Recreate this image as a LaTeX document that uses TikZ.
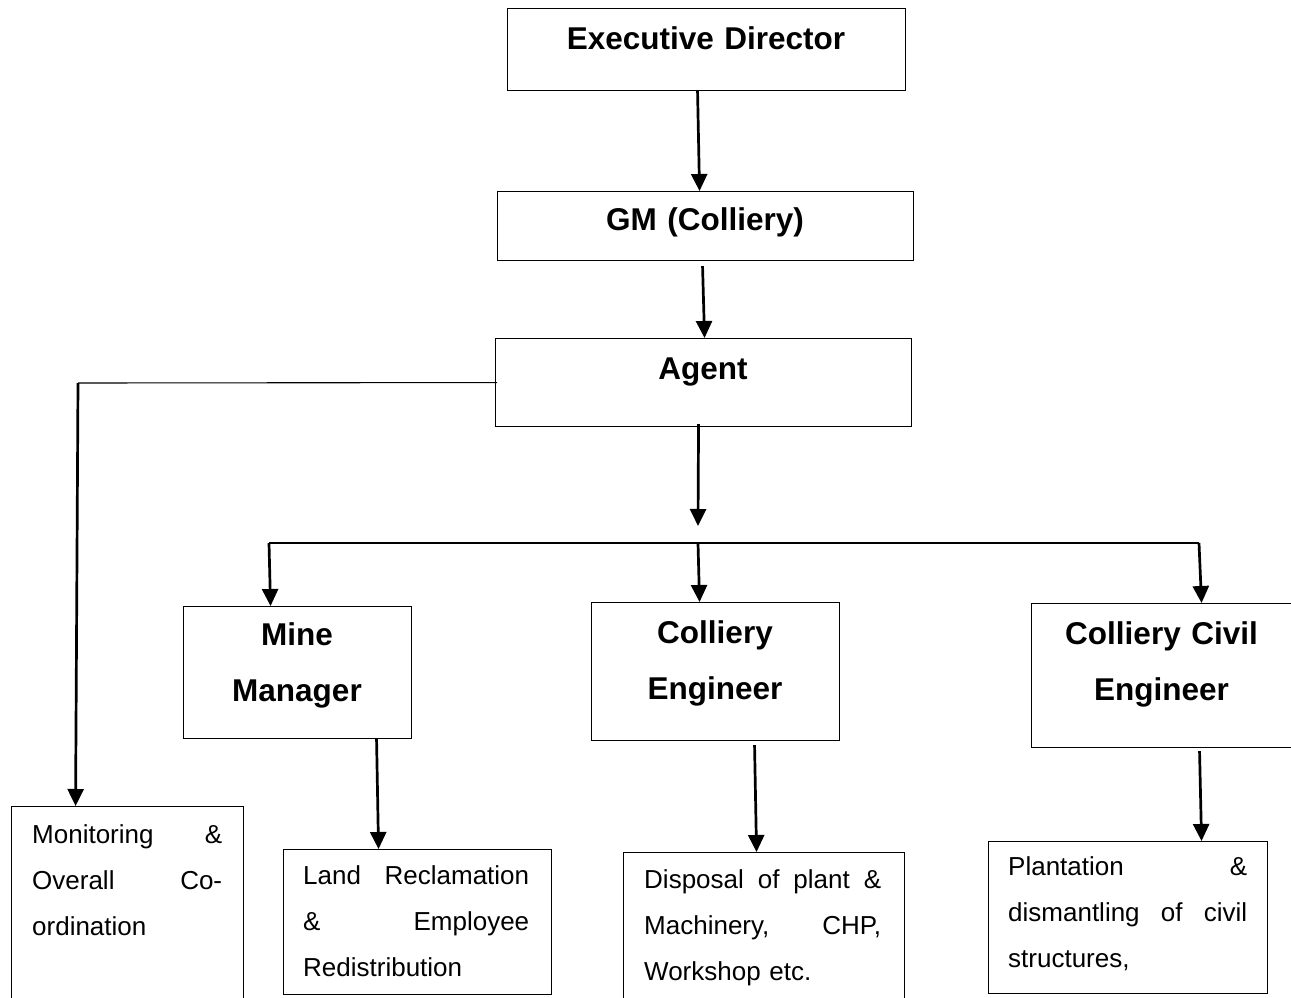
\documentclass[tikz,border=0pt]{standalone}
\usepackage{fontspec}
\setmainfont{Liberation Sans}
\usetikzlibrary{arrows.meta,calc}
\newcommand{\jline}[2]{\leavevmode\hbox to #1{#2}}
\begin{document}
\begin{tikzpicture}[x=1pt,y=-1pt,
  box/.style={draw=black,line width=1.1pt,inner sep=0pt,anchor=north west},
  ttl/.style={inner sep=0pt,anchor=base,text width=420pt,align=center,font=\bfseries\fontsize{31.5}{56}\selectfont},
  body/.style={inner sep=0pt,anchor=base west,align=left,font=\fontsize{26}{46}\selectfont},
  arr/.style={draw=black,line width=2.7pt,-{Triangle[length=17pt,width=16pt]}},
  thinline/.style={draw=black,line width=1.1pt}]
\useasboundingbox (0,0) rectangle (1291,998);
\fill[white] (0,0) rectangle (1291,998);
\clip (0,0) rectangle (1291,998);

% boxes
\node[box,minimum width=398pt,minimum height=82pt] (ed) at (507,8) {};
\node[box,minimum width=416pt,minimum height=69pt] (gm) at (497,191) {};
\node[box,minimum width=416pt,minimum height=88pt] (ag) at (495,338) {};
\node[box,minimum width=228pt,minimum height=132pt] (mm) at (183,606) {};
\node[box,minimum width=248pt,minimum height=138pt] (ce) at (591,602) {};
\node[box,minimum width=261pt,minimum height=144pt] (cce) at (1031,603) {};
\node[box,minimum width=232pt,minimum height=250pt] (mon) at (11,806) {};
\node[box,minimum width=268pt,minimum height=145pt] (land) at (283,849) {};
\node[box,minimum width=281pt,minimum height=146pt] (disp) at (623,852) {};
\node[box,minimum width=279pt,minimum height=152pt] (plant) at (988,841) {};

% titles
\node[ttl] (edt) at (706,50) {Executive Director};
\node[ttl] (gmt) at (705,230) {GM (Colliery)};
\node[ttl] (agt) at (703,379) {Agent};
\node[ttl] (mmt) at (297,645) {Mine\\Manager};
\node[ttl] (cet) at (715,643) {Colliery\\Engineer};
\node[ttl] (ccet) at (1161.5,644) {Colliery Civil\\Engineer};

% body texts
\node[body,text width=190pt] (mont) at (32,843)
  {\jline{190pt}{Monitoring\hfill\&}\\\jline{190pt}{Overall\hfill Co-}\\ordination};
\node[body,text width=226pt] (landt) at (303,884)
  {\jline{226pt}{Land\hfill Reclamation}\\\jline{226pt}{\&\hfill Employee}\\Redistribution};
\node[body,text width=237pt] (dispt) at (644,888)
  {\jline{237pt}{Disposal\hfill of\hfill plant\hfill \&}\\\jline{237pt}{Machinery,\hfill CHP,}\\Workshop etc.};
\node[body,text width=239pt] (plantt) at (1008,875)
  {\jline{239pt}{Plantation\hfill\&}\\\jline{239pt}{dismantling\hfill of\hfill civil}\\structures,};

% coordinates
\coordinate (corner) at (78,383);
\coordinate (agtip) at (698,526);
\coordinate (busL) at (269,543);
\coordinate (busC) at (698,543);
\coordinate (busR) at (1199,543);

% connectors
\draw[arr] ([xshift=-9pt]ed.south) -- ([xshift=-6pt]gm.north);
\draw[arr] ([xshift=-3pt,yshift=-5pt]gm.south) -- ([xshift=1pt]ag.north);
\draw[arr] ([xshift=-5pt,yshift=3pt]ag.south) -- (agtip);
\draw[thinline] ([xshift=2pt]ag.west) -- (corner);
\draw[arr] (corner) -- ([xshift=-52pt]mon.north);
\draw[thinline] (busL) -- (busR);
\draw[arr] (busL) -- ([xshift=-27pt]mm.north);
\draw[arr] (busC) -- ([xshift=-16pt]ce.north);
\draw[arr] (busR) -- ([xshift=39.5pt]cce.north);
\draw[arr] ([xshift=79pt]mm.south) -- ([xshift=-39pt]land.north);
\draw[arr] ([xshift=39pt,yshift=-4pt]ce.south) -- ([xshift=-7.5pt]disp.north);
\draw[arr] ([xshift=37.5pt,yshift=-3pt]cce.south) -- ([xshift=73.5pt]plant.north);
\end{tikzpicture}
\end{document}
